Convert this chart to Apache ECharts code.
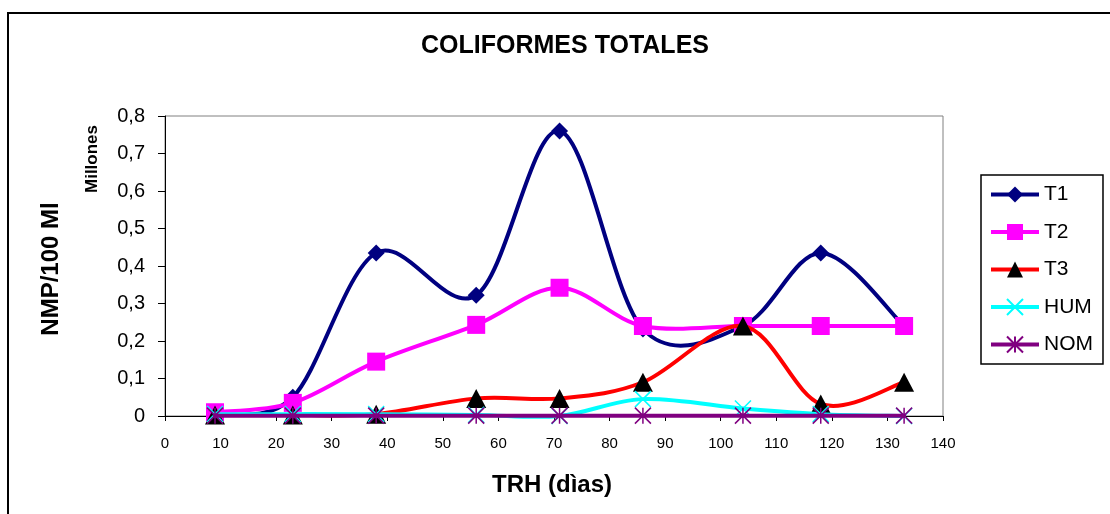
<!DOCTYPE html>
<html>
<head>
<meta charset="utf-8">
<script src="https://cdn.jsdelivr.net/npm/echarts@6/dist/echarts.min.js"></script>
<style>
html,body{margin:0;padding:0;background:#fff;}
#chart{width:1110px;height:514px;}
</style>
</head>
<body>
<div id="chart"></div>
<script>
// Data
const days = [9, 23, 38, 56, 71, 86, 104, 118, 133];
const T1  = [0.005, 0.05, 0.435, 0.322, 0.76, 0.232, 0.24, 0.435, 0.24];
const T2  = [0.01, 0.035, 0.145, 0.243, 0.342, 0.24, 0.24, 0.24, 0.24];
const T3  = [0.003, 0.003, 0.005, 0.047, 0.047, 0.09, 0.24, 0.032, 0.09];
const HUM = [0.005, 0.005, 0.005, 0.003, 0.0, 0.045, 0.02, 0.005, 0.0];
const NOM = [0.001, 0.001, 0.001, 0.001, 0.001, 0.001, 0.001, 0.001, 0.001];
const seriesNames = ['T1', 'T2', 'T3', 'HUM', 'NOM'];
const xTicks = {min: 0, max: 140, interval: 10};
const yTicks = {min: 0, max: 0.8, interval: 0.1};

const FONT = '"Liberation Sans", Arial, sans-serif';
const pair = arr => days.map((d, i) => [d, arr[i]]);

// Smoothed curve (Catmull-Rom style Bezier, like spreadsheet "smoothed line"),
// drawn through the axis scales with api.coord.
function curve(name, arr, color, z) {
  return {
    type: 'custom', name: name + '-curve', z: z, clip: false, silent: true,
    data: pair(arr),
    renderItem: function (params, api) {
      if (params.dataIndex !== 0) return null;
      const pts = days.map((d, i) => api.coord([d, arr[i]]));
      let d = 'M' + pts[0][0] + ',' + pts[0][1];
      for (let i = 0; i < pts.length - 1; i++) {
        const p0 = pts[i - 1] || pts[i], p1 = pts[i], p2 = pts[i + 1], p3 = pts[i + 2] || pts[i + 1];
        const c1 = [p1[0] + (p2[0] - p0[0]) / 6, p1[1] + (p2[1] - p0[1]) / 6];
        const c2 = [p2[0] - (p3[0] - p1[0]) / 6, p2[1] - (p3[1] - p1[1]) / 6];
        d += ' C' + c1[0] + ',' + c1[1] + ' ' + c2[0] + ',' + c2[1] + ' ' + p2[0] + ',' + p2[1];
      }
      return {type: 'path', shape: {pathData: d},
        style: {fill: 'none', stroke: color, lineWidth: 4, lineJoin: 'round', lineCap: 'round'}};
    }
  };
}

function markers(name, arr, color, lineColor, symbol, size, z, extra) {
  return {
    name: name, type: 'line', data: pair(arr), z: z, symbol: symbol, symbolSize: size,
    showAllSymbol: true, clip: false,
    itemStyle: Object.assign({color: color}, extra || {}),
    lineStyle: {color: lineColor, width: 4, opacity: 0}
  };
}

const chart = echarts.init(document.getElementById('chart'), null, {renderer: 'canvas'});
chart.setOption({
  animation: false,
  backgroundColor: '#fff',
  textStyle: {fontFamily: FONT, color: '#000'},
  grid: {left: 165, right: 167, top: 116, bottom: 98, show: true, borderColor: '#808080', borderWidth: 1, backgroundColor: 'transparent'},
  xAxis: {
    type: 'value', min: xTicks.min, max: xTicks.max, interval: xTicks.interval,
    axisLine: {lineStyle: {color: '#000', width: 1}},
    axisTick: {show: true, length: 5, inside: false, lineStyle: {color: '#000'}},
    axisLabel: {color: '#000', fontSize: 15, fontFamily: FONT, margin: 20},
    splitLine: {show: false}
  },
  yAxis: {
    type: 'value', min: yTicks.min, max: yTicks.max, interval: yTicks.interval,
    axisLine: {show: true, lineStyle: {color: '#000', width: 1}},
    axisTick: {show: true, length: 7, lineStyle: {color: '#000'}},
    axisLabel: {color: '#000', fontSize: 20, fontFamily: FONT, margin: 20,
      formatter: v => v === 0 ? '0' : v.toFixed(1).replace('.', ',')},
    splitLine: {show: false}
  },
  legend: {
    orient: 'vertical', left: 981, top: 175,
    data: seriesNames.map(n => ({name: n, lineStyle: {opacity: 1, width: 4}})),
    itemWidth: 48, itemHeight: 20, itemGap: 16.5,
    padding: [9, 10, 9, 8],
    borderColor: '#000', borderWidth: 1.5,
    lineStyle: {opacity: 1},
    textStyle: {fontSize: 21, color: '#000', fontFamily: FONT}
  },
  graphic: [
    {type: 'rect', shape: {x: 8, y: 13, width: 1130, height: 530}, style: {fill: 'none', stroke: '#000', lineWidth: 2}, silent: true},
    {type: 'text', x: 565, y: 46, style: {text: 'COLIFORMES TOTALES', font: 'bold 25px ' + FONT, fill: '#000', textAlign: 'center', textVerticalAlign: 'middle', align: 'center', verticalAlign: 'middle'}},
    {type: 'text', x: 552, y: 485, style: {text: 'TRH (dìas)', font: 'bold 24px ' + FONT, fill: '#000', textAlign: 'center', textVerticalAlign: 'middle', align: 'center', verticalAlign: 'middle'}},
    {type: 'text', x: 51, y: 269, rotation: Math.PI / 2, style: {text: 'NMP/100 Ml', font: 'bold 24px ' + FONT, fill: '#000', textAlign: 'center', textVerticalAlign: 'middle', align: 'center', verticalAlign: 'middle'}},
    {type: 'text', x: 92, y: 159, rotation: Math.PI / 2, style: {text: 'Millones', font: 'bold 17px ' + FONT, fill: '#000', textAlign: 'center', textVerticalAlign: 'middle', align: 'center', verticalAlign: 'middle'}}
  ],
  series: [
    markers('T1', T1, '#000080', '#000080', 'diamond', 17, 3),
    markers('T2', T2, '#FF00FF', '#FF00FF', 'rect', 18, 5),
    markers('T3', T3, '#000000', '#FF0000', 'triangle', [20, 19], 7),
    markers('HUM', HUM, '#00FFFF', '#00FFFF', 'path://M0,0L10,10M10,0L0,10', 16, 9, {borderColor: '#00FFFF', borderWidth: 1.5}),
    markers('NOM', NOM, '#800080', '#800080', 'path://M0,0L10,10M10,0L0,10M5,0L5,10', 16, 11, {borderColor: '#800080', borderWidth: 1.5}),
    curve('T1', T1, '#000080', 2),
    curve('T2', T2, '#FF00FF', 4),
    curve('T3', T3, '#FF0000', 6),
    curve('HUM', HUM, '#00FFFF', 8),
    curve('NOM', NOM, '#800080', 10)
  ]
});
</script>
</body>
</html>
